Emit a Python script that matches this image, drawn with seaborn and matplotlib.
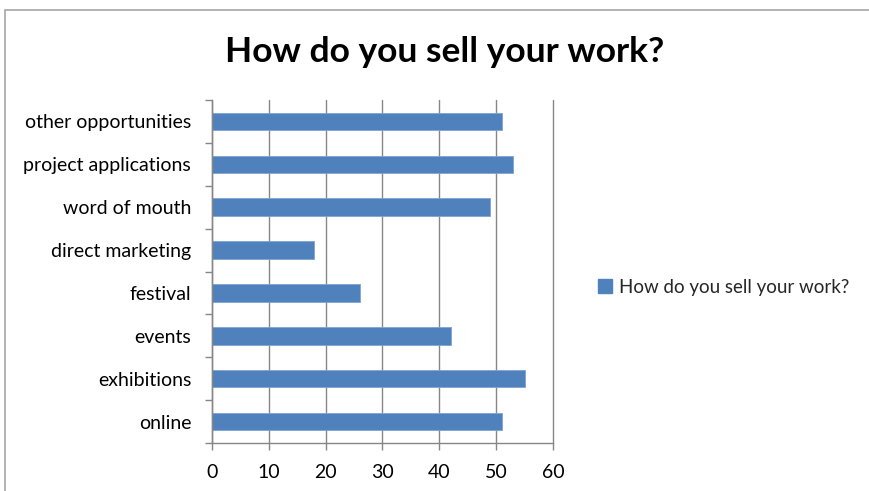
import matplotlib
matplotlib.use("Agg")
import matplotlib.pyplot as plt
import seaborn as sns
import pandas as pd
from matplotlib.patches import Rectangle, Patch

categories = ["other opportunities", "project applications", "word of mouth",
              "direct marketing", "festival", "events", "exhibitions", "online"]
values = [51, 53, 49, 18, 26, 42, 55, 51]
x_ticks = [0, 10, 20, 30, 40, 50, 60]
series_name = "How do you sell your work?"
title = "How do you sell your work?"

sns.set_theme(style="white")
plt.rcParams["font.family"] = ["Lato", "DejaVu Sans"]

df = pd.DataFrame({"category": categories, "value": values})

fig = plt.figure(figsize=(8.7, 4.91), dpi=100)
ax = fig.add_axes([212 / 870, 1 - 443 / 491, (553 - 212) / 870, (443 - 100) / 491])

bar_color = "#4F81BD"
grid_color = "#868686"
sns.barplot(data=df, x="value", y="category", orient="h", color=bar_color,
            width=0.41, saturation=1, edgecolor="#7FA3D3", linewidth=0.6, ax=ax)

ax.set_xlim(0, 60)
ax.set_ylim(len(categories) - 0.5, -0.5)
ax.set_xticks(x_ticks)
ax.set_xticklabels([str(t) for t in x_ticks], fontsize=14, color="#000000")
ax.set_xlabel("")
ax.set_ylabel("")

# category labels at bar centres, tick marks at category boundaries
ax.set_yticks(range(len(categories)))
ax.set_yticklabels(categories, fontsize=14, color="#000000")
ax.tick_params(axis="y", which="major", left=False, length=0, pad=15)
ax.set_yticks([i - 0.5 for i in range(len(categories) + 1)], minor=True)
ax.tick_params(axis="y", which="minor", left=True, length=5, width=1,
               color=grid_color, direction="out")
ax.tick_params(axis="x", bottom=True, length=5, width=1, color=grid_color,
               direction="out", pad=10)

ax.grid(axis="x", color=grid_color, linewidth=1)
ax.grid(axis="y", visible=False)
for gl in ax.get_xgridlines():
    gl.set_clip_on(False)
ax.set_axisbelow(True)
for side in ["top", "right"]:
    ax.spines[side].set_visible(False)
for side in ["left", "bottom"]:
    ax.spines[side].set_color(grid_color)
    ax.spines[side].set_linewidth(1)

fig.text(445 / 870, 1 - 52 / 491, title, ha="center", va="center",
         fontsize=25.5, fontweight="bold", color="#000000")

handle = Patch(facecolor=bar_color, edgecolor=bar_color)
fig.legend([handle], [series_name], loc="center left",
           bbox_to_anchor=(581 / 870, 1 - 287 / 491), frameon=False,
           fontsize=13.5, handlelength=0.75, handleheight=0.75, handletextpad=0.4)

# outer chart border
fig.patches.append(Rectangle((5 / 870, -0.2), 1.2, 1 - 10 / 491 + 0.2,
                             transform=fig.transFigure, fill=False,
                             edgecolor="#A6A6A6", linewidth=1.2))

fig.savefig("out.png", dpi=100, facecolor="white")
